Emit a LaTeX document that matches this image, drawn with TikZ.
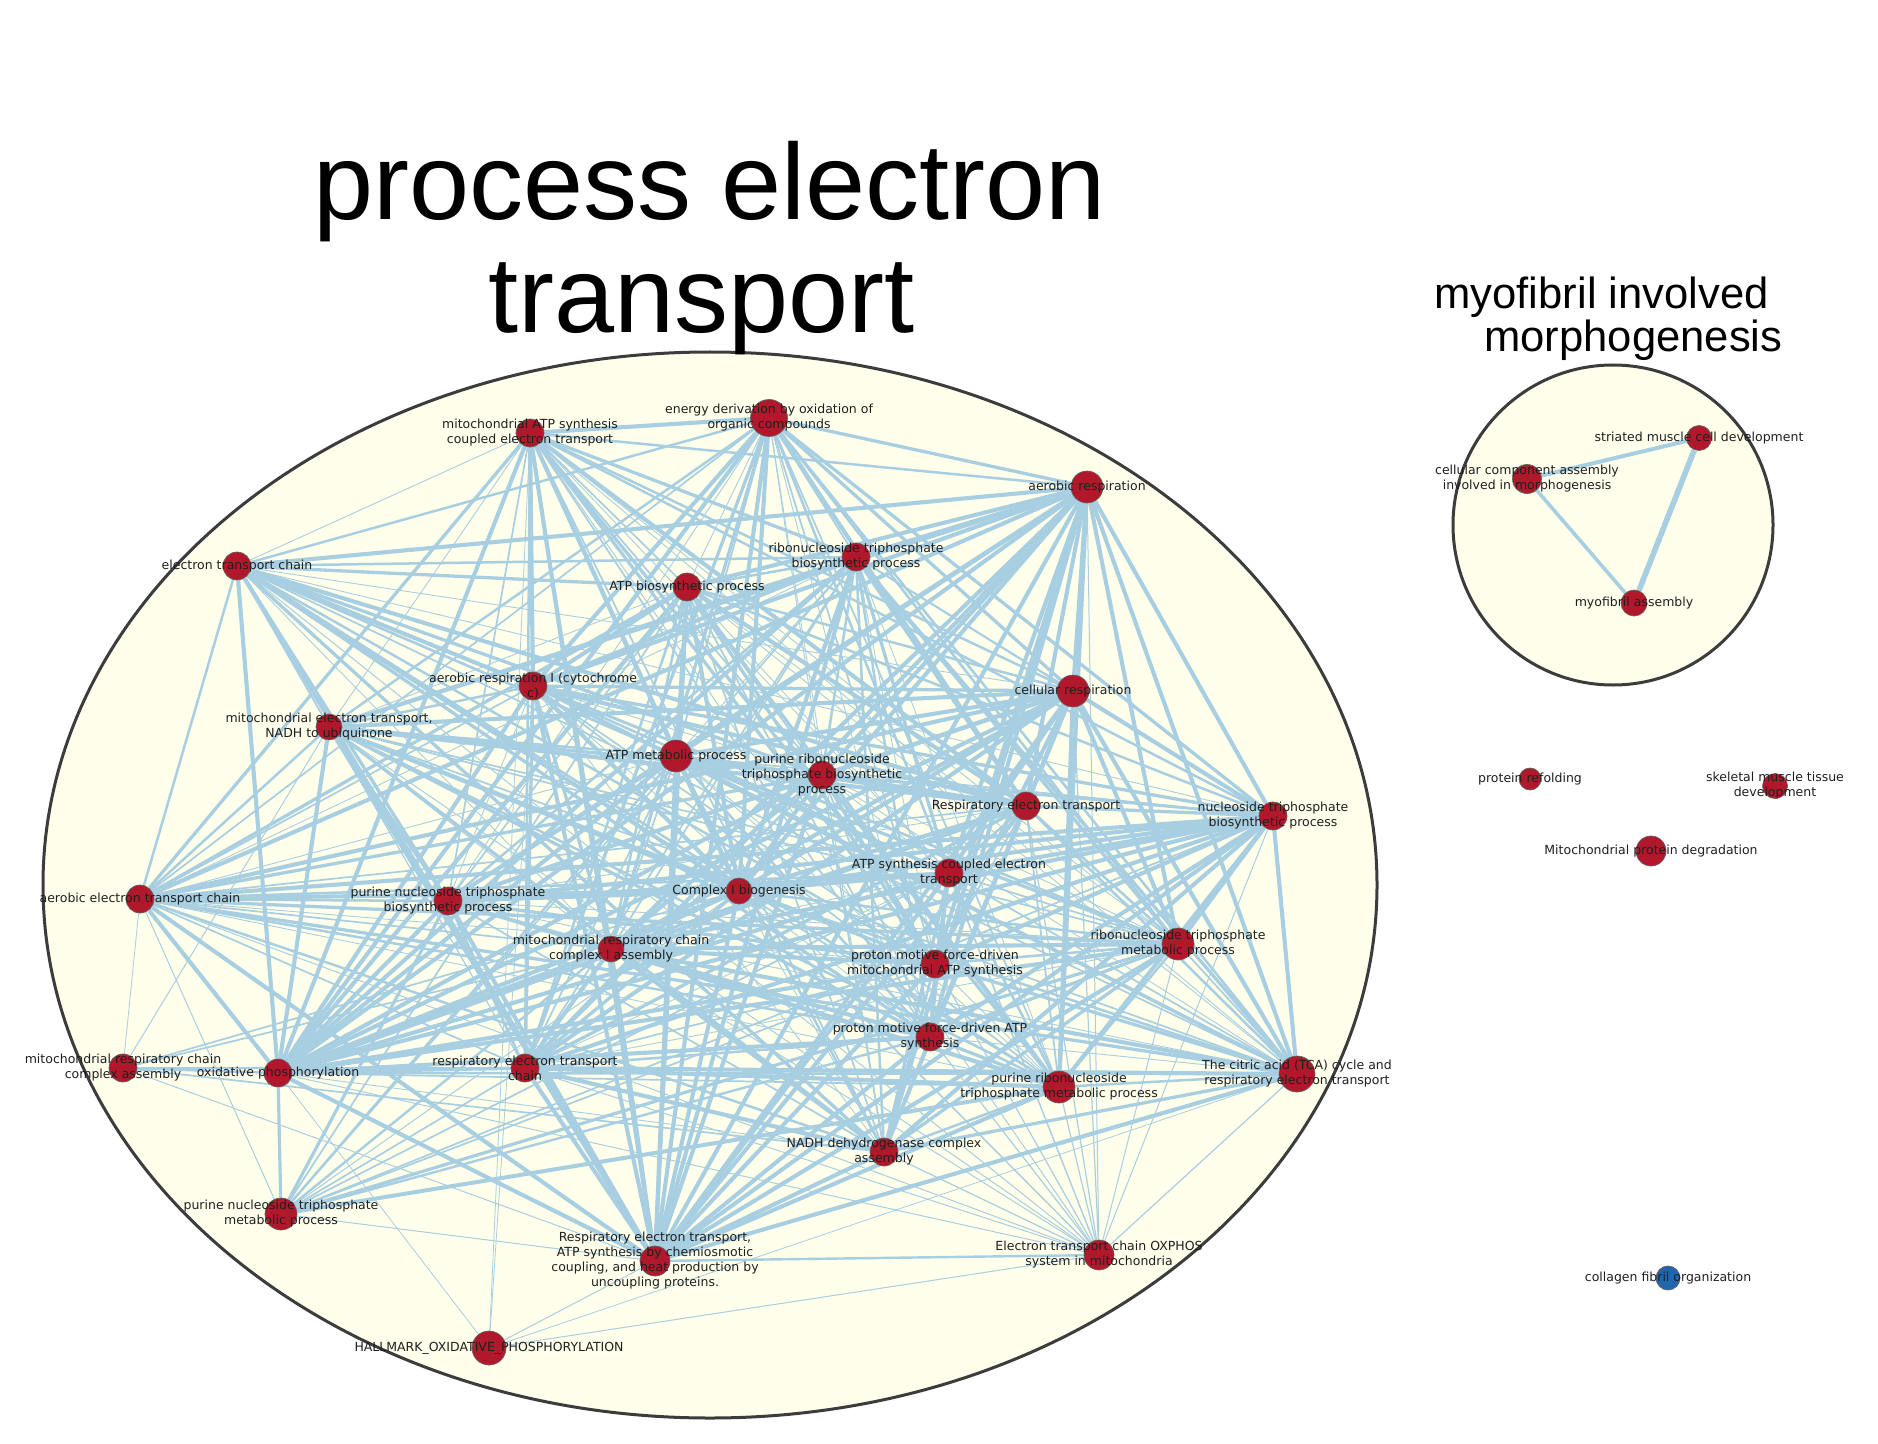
\documentclass[tikz,border=0pt]{standalone}
\usepackage{fontspec}
\newfontfamily\tagfont{DejaVu Sans}
\newfontfamily\headfont{Liberation Sans}
\usetikzlibrary{positioning}

\definecolor{termred}{RGB}{178,24,43}
\definecolor{termblue}{RGB}{33,102,172}
\definecolor{edgeblue}{RGB}{168,206,226}
\definecolor{clusterbg}{RGB}{255,255,235}
\definecolor{rimgrey}{RGB}{60,60,60}

\pgfdeclarelayer{back}
\pgfdeclarelayer{links}
\pgfsetlayers{back,links,main}

\begin{document}
\begin{tikzpicture}[x=0.5pt, y=-0.5pt,
    term/.style={circle, draw=rimgrey!80, line width=0.35pt, fill=termred, inner sep=0pt, minimum size=14pt},
    tag/.style={font=\tagfont\fontsize{6.25}{7.5}\selectfont, align=center, inner sep=0pt, text=black!88},
    link/.style={draw=edgeblue},
    cluster/.style={draw=rimgrey, line width=1.5pt, fill=clusterbg},
    headline/.style={font=\headfont\fontsize{54}{56.5}\selectfont, align=center, inner sep=0pt},
    subhead/.style={font=\headfont\fontsize{21.8}{23}\selectfont, inner sep=0pt}]
  \useasboundingbox (0,0) rectangle (1878,1444);

  % Clusters
  \begin{pgfonlayer}{back}
    \fill[white] (0,0) rectangle (1878,1444);
    \draw[cluster] (710,885) ellipse [x radius=667, y radius=533];
    \draw[cluster] (1613,525) circle [radius=160];
  \end{pgfonlayer}

  \node[headline] (mainhead) at (710,248) {process electron\\transport\hspace*{8.4pt}};
  \node[subhead, anchor=base west] (subheadA) at (1434,309) {myofibril involved};
  \node[subhead, anchor=base west] (subheadB) at (1484,352) {morphogenesis};

  % Terms of the electron transport cluster
  \node[term] (mATPs) at (530,433) {};
  \node[term, minimum size=18.5pt] (energy) at (769,418) {};
  \node[term, minimum size=16pt] (aerresp) at (1087,487) {};
  \node[term] (etc) at (237,566) {};
  \node[term] (ribotpbio) at (856,557) {};
  \node[term] (atpbio) at (687,587) {};
  \node[term] (aerrespI) at (533,686) {};
  \node[term, minimum size=16pt] (cellresp) at (1073,691) {};
  \node[term, minimum size=13pt] (mitoNADH) at (329,727) {};
  \node[term, minimum size=16pt] (atpmet) at (676,756) {};
  \node[term] (purribobio) at (822,775) {};
  \node[term] (respet) at (1026,806) {};
  \node[term] (ntpbio) at (1273,816) {};
  \node[term] (atpsyn) at (949,873) {};
  \node[term] (aeretc) at (140,899) {};
  \node[term] (purntpbio) at (448,901) {};
  \node[term, minimum size=13pt] (cIbio) at (739,891) {};
  \node[term, minimum size=13pt] (cIass) at (611,949) {};
  \node[term, minimum size=16pt] (ribotpmet) at (1178,944) {};
  \node[term] (pmfmito) at (935,964) {};
  \node[term] (pmfatp) at (930,1037) {};
  \node[term] (mrcass) at (123,1068) {};
  \node[term] (oxphos) at (278,1073) {};
  \node[term] (retc) at (525,1068) {};
  \node[term, minimum size=18pt] (tca) at (1297,1074) {};
  \node[term, minimum size=16pt] (purribomet) at (1059,1087) {};
  \node[term] (nadhass) at (884,1152) {};
  \node[term, minimum size=16pt] (purntpmet) at (281,1214) {};
  \node[term, minimum size=15pt] (respuncoup) at (655,1261) {};
  \node[term, minimum size=15pt] (oxphosmito) at (1099,1255) {};
  \node[term, minimum size=17pt] (hallmark) at (489,1348) {};

  % Terms of the myofibril cluster and single terms
  \node[term, minimum size=12.5pt] (striated) at (1699,438) {};
  \node[term, minimum size=14.5pt] (ccamorph) at (1527,479) {};
  \node[term, minimum size=13pt] (myoass) at (1634,603) {};
  \node[term, minimum size=11pt] (refold) at (1530,779) {};
  \node[term, minimum size=12.5pt] (skel) at (1775,786) {};
  \node[term, minimum size=15pt] (mitodeg) at (1651,851) {};
  \node[term, fill=termblue, minimum size=12pt] (collagen) at (1668,1278) {};

  % Similarity links
  \begin{pgfonlayer}{links}
    \def\corelist{mATPs,energy,aerresp,etc,ribotpbio,atpbio,aerrespI,cellresp,mitoNADH,atpmet,purribobio,respet,ntpbio,atpsyn,aeretc,purntpbio,cIbio,cIass,ribotpmet,pmfmito,pmfatp,oxphos,retc,tca,purribomet,nadhass,respuncoup}
    \foreach \a [count=\i] in \corelist {
      \foreach \b [count=\j] in \corelist {
        \ifnum\j>\i
          \pgfmathsetmacro\w{0.45+0.4*mod(3*\i+7*\j+\i*\j,5)}
          \draw[link, line width=\w pt] (\a) -- (\b);
        \fi
      }
    }
    \foreach \b/\w in {oxphos/1.6, aeretc/0.5, purntpbio/1.6, atpmet/1.2, atpbio/0.85, purribobio/1.2, ribotpbio/0.85, ribotpmet/1.6, purribomet/2, pmfatp/1.2, pmfmito/0.85, atpsyn/0.85, ntpbio/0.85, retc/0.85, respuncoup/0.5, cIbio/0.5}
      \draw[link, line width=\w pt] (purntpmet) -- (\b);
    \foreach \b/\w in {oxphos/0.4, aerrespI/0.4, mATPs/0.4, respuncoup/0.5, oxphosmito/0.5, tca/0.4}
      \draw[link, line width=\w pt] (hallmark) -- (\b);
    \foreach \b/\w in {oxphos/1.2, mitoNADH/0.5, cIass/0.85, cIbio/0.85, nadhass/0.85, retc/0.85, respuncoup/0.5, aeretc/0.4}
      \draw[link, line width=\w pt] (mrcass) -- (\b);
    \foreach \b/\w in {tca/0.6, respet/0.6, cellresp/0.6, aerresp/0.5, atpsyn/0.6, pmfmito/0.6, pmfatp/0.6, nadhass/0.6, cIbio/0.5, cIass/0.5, retc/0.5, oxphos/0.5, respuncoup/1.2, mitoNADH/0.5, aeretc/0.5, etc/0.5, mATPs/0.5, aerrespI/0.5, energy/0.5, ntpbio/0.5, ribotpmet/0.5, purribomet/0.6}
      \draw[link, line width=\w pt] (oxphosmito) -- (\b);
    \draw[link, line width=2pt] (ccamorph) -- (striated);
    \draw[link, line width=1.8pt] (ccamorph) -- (myoass);
    \draw[link, line width=2.8pt] (striated) -- (myoass);
  \end{pgfonlayer}

  % Labels
  \node[tag] (mATPs-t) at (mATPs) {mitochondrial ATP synthesis\\coupled electron transport};
  \node[tag] (energy-t) at (energy) {energy derivation by oxidation of\\organic compounds};
  \node[tag] (aerresp-t) at (aerresp) {aerobic respiration};
  \node[tag] (etc-t) at (etc) {electron transport chain};
  \node[tag] (ribotpbio-t) at (ribotpbio) {ribonucleoside triphosphate\\biosynthetic process};
  \node[tag] (atpbio-t) at (atpbio) {ATP biosynthetic process};
  \node[tag] (aerrespI-t) at (aerrespI) {aerobic respiration I (cytochrome\\c)};
  \node[tag] (cellresp-t) at (cellresp) {cellular respiration};
  \node[tag] (mitoNADH-t) at (mitoNADH) {mitochondrial electron transport,\\NADH to ubiquinone};
  \node[tag] (atpmet-t) at (atpmet) {ATP metabolic process};
  \node[tag] (purribobio-t) at (purribobio) {purine ribonucleoside\\triphosphate biosynthetic\\process};
  \node[tag] (respet-t) at (respet) {Respiratory electron transport};
  \node[tag] (ntpbio-t) at (ntpbio) {nucleoside triphosphate\\biosynthetic process};
  \node[tag] (atpsyn-t) at (atpsyn) {ATP synthesis coupled electron\\transport};
  \node[tag] (aeretc-t) at (aeretc) {aerobic electron transport chain};
  \node[tag] (purntpbio-t) at (purntpbio) {purine nucleoside triphosphate\\biosynthetic process};
  \node[tag] (cIbio-t) at (cIbio) {Complex I biogenesis};
  \node[tag] (cIass-t) at (cIass) {mitochondrial respiratory chain\\complex I assembly};
  \node[tag] (ribotpmet-t) at (ribotpmet) {ribonucleoside triphosphate\\metabolic process};
  \node[tag] (pmfmito-t) at (pmfmito) {proton motive force-driven\\mitochondrial ATP synthesis};
  \node[tag] (pmfatp-t) at (pmfatp) {proton motive force-driven ATP\\synthesis};
  \node[tag] (mrcass-t) at (mrcass) {mitochondrial respiratory chain\\complex assembly};
  \node[tag] (oxphos-t) at (oxphos) {oxidative phosphorylation};
  \node[tag] (retc-t) at (retc) {respiratory electron transport\\chain};
  \node[tag] (tca-t) at (tca) {The citric acid (TCA) cycle and\\respiratory electron transport};
  \node[tag] (purribomet-t) at (purribomet) {purine ribonucleoside\\triphosphate metabolic process};
  \node[tag] (nadhass-t) at (nadhass) {NADH dehydrogenase complex\\assembly};
  \node[tag] (purntpmet-t) at (purntpmet) {purine nucleoside triphosphate\\metabolic process};
  \node[tag] (respuncoup-t) at (respuncoup) {Respiratory electron transport,\\ATP synthesis by chemiosmotic\\coupling, and heat production by\\uncoupling proteins.};
  \node[tag] (oxphosmito-t) at (oxphosmito) {Electron transport chain OXPHOS\\system in mitochondria};
  \node[tag] (hallmark-t) at (hallmark) {HALLMARK\_OXIDATIVE\_PHOSPHORYLATION};
  \node[tag] (striated-t) at (striated) {striated muscle cell development};
  \node[tag] (ccamorph-t) at (ccamorph) {cellular component assembly\\involved in morphogenesis};
  \node[tag] (myoass-t) at (myoass) {myofibril assembly};
  \node[tag] (refold-t) at (refold) {protein refolding};
  \node[tag] (skel-t) at (skel) {skeletal muscle tissue\\development};
  \node[tag] (mitodeg-t) at (mitodeg) {Mitochondrial protein degradation};
  \node[tag] (collagen-t) at (collagen) {collagen fibril organization};
\end{tikzpicture}
\end{document}
